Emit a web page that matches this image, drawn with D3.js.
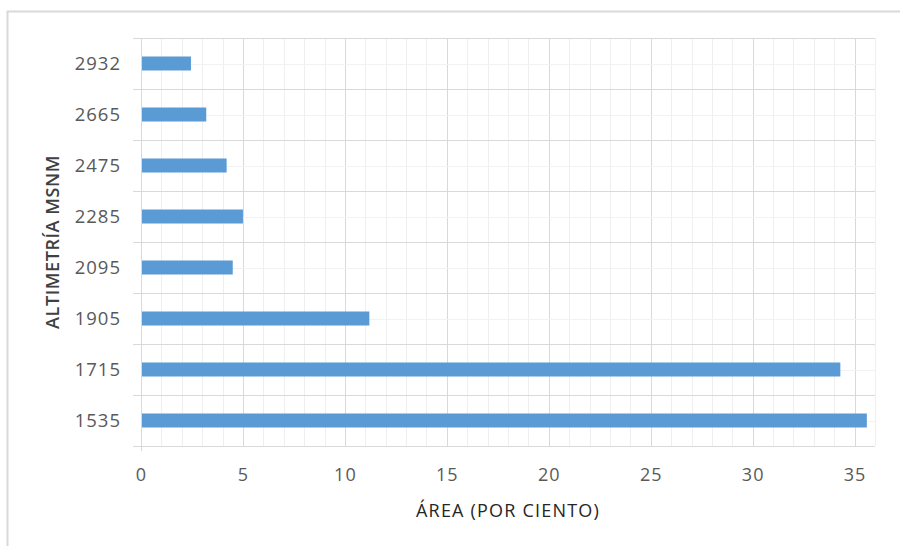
<!DOCTYPE html>
<html>
<head>
<meta charset="utf-8">
<script src="https://cdn.jsdelivr.net/npm/d3@7"></script>
<style>
html,body{margin:0;padding:0;background:#fff;}
svg{display:block;}
</style>
</head>
<body>
<script>
const categories = ["2932","2665","2475","2285","2095","1905","1715","1535"];
const values = [2.45, 3.2, 4.2, 5.0, 4.5, 11.2, 34.3, 35.6];
const xTicks = [0,5,10,15,20,25,30,35];
const xTitle = "ÁREA (POR CIENTO)";
const yTitle = "ALTIMETRÍA MSNM";

const W = 900, H = 546;
const m = {left:141, right:25, top:38, bottom:100};
const svg = d3.select("body").append("svg").attr("width",W).attr("height",H);

// frame
svg.append("path").attr("d","M7.5,546 V11.5 H900").attr("fill","none").attr("stroke","#d9d9d9").attr("stroke-width",2);

const x = d3.scaleLinear().domain([0,36]).range([m.left, W-m.right]);
const y = d3.scaleBand().domain(categories).range([m.top, H-m.bottom]).paddingInner(0).paddingOuter(0);

const g = svg.append("g");
// minor vertical gridlines
g.selectAll(".vmin").data(d3.range(1,37)).join("line")
  .attr("x1",d=>Math.round(x(d))+0.5).attr("x2",d=>Math.round(x(d))+0.5)
  .attr("y1",m.top).attr("y2",H-m.bottom)
  .attr("stroke",d=>d%5===0?"#d9d9d9":"#efefef").attr("stroke-width",1);
// minor horizontal lines at band centers
g.selectAll(".hmin").data(categories).join("line")
  .attr("x1",m.left).attr("x2",W-m.right)
  .attr("y1",d=>Math.round(y(d)+y.bandwidth()/2)+0.5).attr("y2",d=>Math.round(y(d)+y.bandwidth()/2)+0.5)
  .attr("stroke","#f2f2f2");
// major horizontal gridlines (category boundaries)
const bounds = categories.map(c=>y(c)).concat([H-m.bottom]);
g.selectAll(".hmaj").data(bounds).join("line")
  .attr("x1",m.left-8).attr("x2",W-m.right)
  .attr("y1",d=>Math.round(d)+0.5).attr("y2",d=>Math.round(d)+0.5)
  .attr("stroke","#d9d9d9");
// axis line at 0
g.append("line").attr("x1",x(0)+0.5).attr("x2",x(0)+0.5).attr("y1",m.top).attr("y2",H-m.bottom+5).attr("stroke","#d9d9d9");

// bars
const bh = 14;
svg.selectAll(".bar").data(values).join("rect")
  .attr("x",x(0)+1)
  .attr("y",(d,i)=>y(categories[i])+y.bandwidth()/2-bh/2)
  .attr("width",d=>x(d)-x(0)-1)
  .attr("height",bh)
  .attr("fill","#5b9bd5");

// y tick labels
const yAxis = d3.axisLeft(y).tickSize(0).tickPadding(20);
const ya = svg.append("g").attr("transform",`translate(${m.left},0)`).call(yAxis);
ya.select(".domain").remove();
ya.selectAll("text").attr("font-family","'Open Sans', sans-serif").attr("font-size",18.5).attr("letter-spacing","1px").attr("fill","#595959").attr("dy","0.35em");

// x tick labels
const xAxis = d3.axisBottom(x).tickValues(xTicks).tickSize(0).tickPadding(22);
const xa = svg.append("g").attr("transform",`translate(0,${H-m.bottom})`).call(xAxis);
xa.select(".domain").remove();
xa.selectAll("text").attr("font-family","'Open Sans', sans-serif").attr("font-size",18).attr("letter-spacing","1px").attr("fill","#595959");

// titles
svg.append("text").attr("x",(x(0)+x(36))/2).attr("y",517).attr("text-anchor","middle")
  .attr("font-family","'Open Sans', sans-serif").attr("font-size",18).attr("letter-spacing","1.2px").attr("fill","#262626").text(xTitle);
svg.append("text").attr("transform",`translate(59,${(m.top+H-m.bottom)/2}) rotate(-90)`).attr("text-anchor","middle")
  .attr("font-family","'Open Sans', sans-serif").attr("font-size",18).attr("font-weight",600).attr("letter-spacing","0.6px").attr("fill","#404040").text(yTitle);
</script>
</body>
</html>
